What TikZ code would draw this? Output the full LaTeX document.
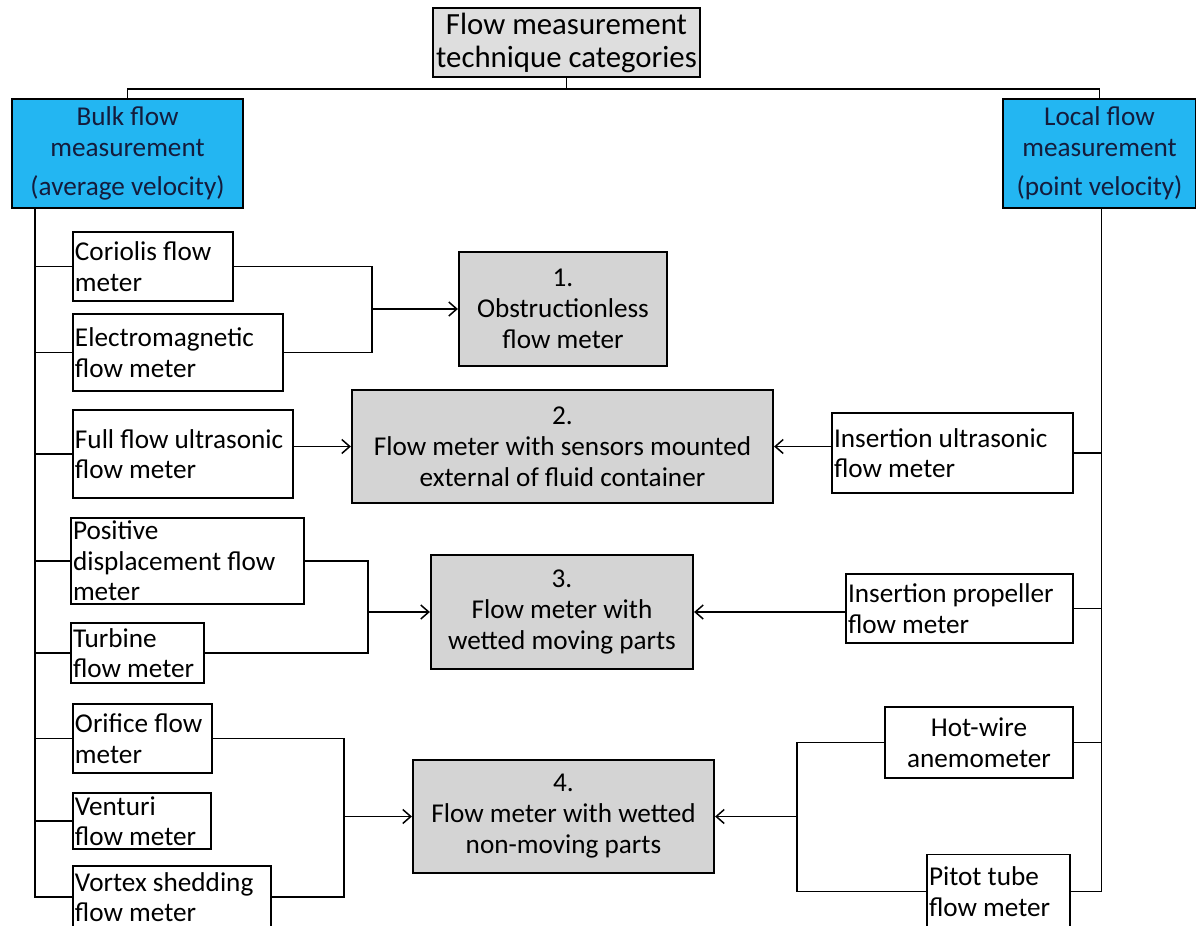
\documentclass[tikz,border=0pt]{standalone}
\usepackage{fontspec}
\setmainfont{Carlito}
\usetikzlibrary{arrows.meta}
\definecolor{bulkblue}{RGB}{35,182,242}
\definecolor{catgray}{RGB}{212,212,212}
\definecolor{topgray}{RGB}{222,222,222}
\definecolor{navytext}{RGB}{20,28,60}
\begin{document}
\begin{tikzpicture}[x=0.5pt,y=-0.5pt,
  every node/.style={font=\fontsize{13.6pt}{15.25pt}\selectfont},
  lbox/.style={draw, line width=0.9pt, inner xsep=1pt, inner ysep=0pt, align=flush left, fill=white},
  cbox/.style={draw, line width=0.9pt, inner sep=0pt, align=flush center, fill=white},
  catbox/.style={draw, line width=1.1pt, inner sep=0pt, align=flush center, fill=catgray,
    font=\fontsize{13.6pt}{15.5pt}\selectfont},
  headbox/.style={draw, line width=0.9pt, inner sep=0pt, align=flush center, fill=bulkblue, text=navytext},
  topbox/.style={draw, line width=0.9pt, inner sep=0pt, align=flush center, fill=topgray,
    font=\fontsize{15.4pt}{16.5pt}\selectfont},
  conn/.style={line width=0.75pt},
  arr/.style={conn, -{Straight Barb[length=4pt,width=7pt]}}
]
\useasboundingbox (0,0) rectangle (1196,926);
\clip (0,0) rectangle (1196,926);
\fill[white] (0,0) rectangle (1196,926);

% header nodes
\node[topbox, minimum width=133.5pt, minimum height=34.5pt] (top) at (566.5,42.5) {Flow measurement\\technique categories};
\node[headbox, minimum width=115.5pt, minimum height=54.5pt] (bulk) at (127.5,153.5) {Bulk flow\\measurement\\[4.5pt](average velocity)};
\node[headbox, minimum width=96.5pt, minimum height=54.5pt] (local) at (1099.5,153.5) {Local flow\\measurement\\[4.5pt](point velocity)};

% left boxes
\node[lbox, text width=78pt, minimum height=34.5pt] (cor) at (153,266.5) {Coriolis flow\\meter};
\node[lbox, text width=103pt, minimum height=38.5pt] (em) at (178,352.5) {Electromagnetic\\flow meter};
\node[lbox, text width=108pt, minimum height=44pt] (ff) at (183,454) {Full flow ultrasonic\\flow meter};
\node[lbox, text width=114.5pt, minimum height=43pt] (pd) at (187.5,561) {Positive\\displacement flow\\meter};
\node[lbox, text width=64.5pt, minimum height=30pt] (tur) at (137.5,653) {Turbine\\flow meter};
\node[lbox, text width=67.5pt, minimum height=34.5pt] (ori) at (142.5,738.5) {Orifice flow\\meter};
\node[lbox, text width=67pt, minimum height=28pt] (ven) at (142,821) {Venturi\\flow meter};
\node[lbox, text width=97pt, minimum height=31pt] (vor) at (172,897) {Vortex shedding\\flow meter};

% right boxes
\node[lbox, text width=118.5pt, minimum height=40pt] (insu) at (952.5,453) {Insertion ultrasonic\\flow meter};
\node[lbox, text width=111.5pt, minimum height=34.5pt] (insp) at (959.5,608.5) {Insertion propeller\\flow meter};
\node[cbox, minimum width=94pt, minimum height=35.5pt] (hw) at (979,742.5) {Hot-wire\\anemometer};
\node[lbox, text width=69.5pt, minimum height=37pt] (pit) at (998.5,891.5) {Pitot tube\\flow meter};

% category boxes
\node[catbox, minimum width=104pt, minimum height=57pt] (b1) at (563,309) {1.\\Obstructionless\\flow meter};
\node[catbox, minimum width=210.5pt, minimum height=56.5pt] (b2) at (562.5,446.5) {2.\\Flow meter with sensors mounted\\external of fluid container};
\node[catbox, minimum width=131pt, minimum height=57pt] (b3) at (562,612) {3.\\Flow meter with\\wetted moving parts};
\node[catbox, minimum width=150.5pt, minimum height=56.5pt] (b4) at (563.5,816.5) {4.\\Flow meter with wetted\\non-moving parts};

% tree from top
\draw[conn] (top.south) -- ++(0,11) coordinate (tj);
\draw[conn] (tj) -| (bulk.north);
\draw[conn] (tj) -| (local.north);

% left trunk
\coordinate (lt) at ([xshift=12pt]bulk.south west);
\draw[conn] (lt) |- (vor.west);
\foreach \n in {cor,em,ff,pd,tur,ori,ven}
  \draw[conn] (\n.west) -- (\n.west -| lt);

% right trunk
\coordinate (rt) at ([xshift=1pt]local.south);
\draw[conn] (rt) |- (pit.east);
\foreach \n in {insu,insp,hw}
  \draw[conn] (\n.east) -- (\n.east -| rt);

% category 1
\coordinate (j1) at (372,309);
\draw[conn] (cor.east) -| (j1);
\draw[conn] (em.east) -| (j1);
\draw[arr] (j1) -- (b1.west);

% category 2
\draw[arr] (ff.east |- b2.west) -- (b2.west);
\draw[arr] (insu.west |- b2.east) -- (b2.east);

% category 3
\coordinate (j3) at (368,612);
\draw[conn] (pd.east) -| (j3);
\draw[conn] (tur.east) -| (j3);
\draw[arr] (j3) -- (b3.west);
\draw[arr] (insp.west |- b3.east) -- (b3.east);

% category 4
\coordinate (j4) at (344,816.5);
\draw[conn] (ori.east) -| (j4);
\draw[conn] (vor.east) -| (j4);
\draw[arr] (j4) -- (b4.west);
\coordinate (j4r) at (797,816.5);
\draw[conn] (hw.west) -| (j4r);
\draw[conn] (pit.west) -| (j4r);
\draw[arr] (j4r) -- (b4.east);
\end{tikzpicture}
\end{document}
